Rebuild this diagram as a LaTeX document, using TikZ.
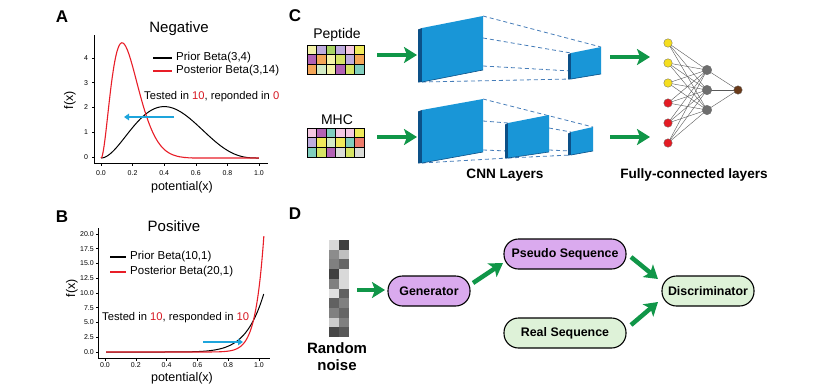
\documentclass[tikz,border=0pt]{standalone}
\usepackage{fontspec}
\setmainfont{Liberation Sans}
\usetikzlibrary{arrows.meta}
\definecolor{garrow}{RGB}{16,150,72}
\definecolor{cyarr}{RGB}{30,165,220}
\definecolor{redc}{RGB}{232,30,40}
\definecolor{redt}{RGB}{215,25,35}
\definecolor{slabf}{RGB}{25,150,215}
\definecolor{slabs}{RGB}{12,80,135}
\definecolor{dashc}{RGB}{70,125,185}
\definecolor{purp}{RGB}{218,170,238}
\definecolor{lgreen}{RGB}{222,242,216}
\definecolor{nyel}{RGB}{245,222,30}
\definecolor{nred}{RGB}{228,28,36}
\definecolor{ngray}{RGB}{110,110,110}
\definecolor{nbrown}{RGB}{105,58,25}
% grid colours
\definecolor{py}{RGB}{244,242,168}
\definecolor{lv}{RGB}{190,172,222}
\definecolor{lg}{RGB}{168,212,100}
\definecolor{pk}{RGB}{244,200,226}
\definecolor{yw}{RGB}{240,234,90}
\definecolor{pu}{RGB}{178,98,180}
\definecolor{or}{RGB}{244,166,88}
\definecolor{yg}{RGB}{214,228,100}
\definecolor{pg}{RGB}{210,234,196}
\definecolor{tl}{RGB}{128,206,190}
\definecolor{sa}{RGB}{238,124,108}
\definecolor{gr}{RGB}{218,220,216}
\tikzset{
  panel/.style={font=\fontsize{17}{19}\selectfont\bfseries},
  ttl/.style={font=\fontsize{15}{17}\selectfont},
  lgd/.style={font=\fontsize{11.5}{13}\selectfont, anchor=west, inner sep=0pt},
  note/.style={font=\fontsize{11.2}{13}\selectfont, anchor=west, inner sep=0pt},
  tickl/.style={font=\fontsize{7}{8}\selectfont, inner sep=0pt},
  axl/.style={font=\fontsize{12.5}{14}\selectfont, inner sep=0pt},
  lbl/.style={font=\fontsize{14}{16}\selectfont, inner sep=0pt},
  blbl/.style={font=\fontsize{13.6}{15}\selectfont\bfseries, inner sep=0pt},
  axisline/.style={draw=black, line width=0.9pt},
  garr/.style={draw=garrow, line width=4.5pt, -{Stealth[length=13pt,width=16pt,inset=3pt]}},
  carr/.style={draw=cyarr, line width=1.8pt, -{Triangle[length=5pt,width=6.5pt]}},
  dsh/.style={draw=dashc, line width=0.8pt, dash pattern=on 4pt off 3pt},
  nnode/.style={circle, minimum size=8.5pt, inner sep=0pt, draw=black!60, line width=0.3pt},
  nedge/.style={draw=black!65, line width=0.4pt},
  box/.style={draw=black, line width=1.1pt, rounded corners=14.5pt, minimum height=30pt, inner sep=0pt, font=\fontsize{12.4}{14}\selectfont\bfseries},
  cellb/.style={draw=black, line width=0.7pt}
}
\newcommand{\slabdraw}[7]{%
  % #1 xl, #2 xr, #3 ytl, #4 ytr, #5 ybl, #6 ybr, #7 depth
  \fill[slabs] ({#1-#7},{#3+1.5}) -- (#1,#3) -- (#1,#5) -- ({#1-#7},{#5+0.5}) -- cycle;
  \fill[slabf] (#1,#3) -- (#2,#4) -- (#2,#6) -- (#1,#5) -- cycle;
  \draw[slabs, line width=0.6pt] (#1,#5) -- (#2,#6);
}
\begin{document}
\begin{tikzpicture}[x=1pt,y=-1pt]
\useasboundingbox (0,0) rectangle (827,389);
\fill[white] (0,0) rectangle (827,389);

% ================= Panel A =================
\node[panel] (labA) at (62,17) {A};
\node[ttl] (titA) at (179,29) {Negative};
\draw[axisline] (94,35) -- (94,163) -- (268,163);
\foreach \t/\l in {0/0.0,0.2/0.2,0.4/0.4,0.6/0.6,0.8/0.8,1/1.0}{
  \draw[line width=0.6pt] ({101+158*\t},163) -- ({101+158*\t},165.5);
  \node[tickl] at ({101+158*\t},173) {\l};
}
\foreach \v in {0,1,2,3,4}{
  \draw[line width=0.6pt] (94,{157-24.8*\v}) -- (91.5,{157-24.8*\v});
  \node[tickl] at (86,{157-24.8*\v}) {\v};
}
\node[axl, rotate=90] (fxA) at (70,100) {f(x)};
\node[axl] (pxA) at (182,187) {potential(x)};
\draw[black, line width=1pt] plot[domain=0:1, samples=120, smooth] ({101+158*\x},{158-(60*\x^2*(1-\x)^3)*24.8});
\draw[redc, line width=1.1pt] plot[domain=0:1, samples=160, smooth] ({101+158*\x},{158-(1680*\x^2*(1-\x)^13)*24.8});
\draw[black, line width=1.2pt] (153,58) -- (172,58);
\node[lgd] (lgA1) at (176,58) {Prior Beta(3,4)};
\draw[redc, line width=1.2pt] (153,71) -- (172,71);
\node[lgd] (lgA2) at (176,71) {Posterior Beta(3,14)};
\node[note] (noteA) at (144,97) {Tested in \textcolor{redt}{10}, reponded in \textcolor{redt}{0}};
\coordinate (aS) at (174,117);
\coordinate (aE) at (124,117);
\draw[carr] (aS) -- (aE);

% ================= Panel B =================
\node[panel] (labB) at (62,217) {B};
\node[ttl] (titB) at (174,226) {Positive};
\draw[axisline] (98,228) -- (98,358) -- (270,358);
\foreach \t/\l in {0/0.0,0.2/0.2,0.4/0.4,0.6/0.6,0.8/0.8,1/1.0}{
  \draw[line width=0.6pt] ({105+154*\t},358) -- ({105+154*\t},360.5);
  \node[tickl] at ({105+154*\t},365) {\l};
}
\foreach \v/\l in {0/0.0,2.5/2.5,5/5.0,7.5/7.5,10/10.0,12.5/12.5,15/15.0,17.5/17.5,20/20.0}{
  \draw[line width=0.6pt] (98,{352-5.9*\v}) -- (95.5,{352-5.9*\v});
  \node[tickl, anchor=east] at (94,{352-5.9*\v}) {\l};
}
\node[axl, rotate=90] (fxB) at (72,288) {f(x)};
\node[axl] (pxB) at (182,378) {potential(x)};
\draw[black, line width=1pt] plot[domain=0:1, samples=150, smooth] ({106+158*\x},{352-(10*\x^9)*5.9});
\draw[redc, line width=1.1pt] plot[domain=0:1, samples=200, smooth] ({106+158*\x},{352-(20*\x^19)*5.9});
\draw[black, line width=1.2pt] (110,257) -- (126,257);
\node[lgd] (lgB1) at (130,257) {Prior Beta(10,1)};
\draw[redc, line width=1.2pt] (110,272) -- (126,272);
\node[lgd] (lgB2) at (130,272) {Posterior Beta(20,1)};
\node[note] (noteB) at (102,318) {Tested in \textcolor{redt}{10}, responded in \textcolor{redt}{10}};
\coordinate (bS) at (203,342);
\coordinate (bE) at (243,342);
\draw[carr] (bS) -- (bE);

% ================= Panel C =================
\node[panel] (labC) at (295,16) {C};
\node[lbl] (pep) at (337,35) {Peptide};
\node[lbl] (mhc) at (337,120) {MHC};
% peptide grid
\foreach \r/\cl in {0/{py,lv,lg,lv,pk,yw},1/{pu,or,py,yg,lv,or},2/{or,pg,py,pu,yg,tl}}{
  \foreach \c [count=\j from 0] in \cl {
    \filldraw[fill=\c, cellb] ({307+9.5*\j},{45+9.67*\r}) rectangle ++(9.5,9.67);
  }
}
% MHC grid
\foreach \r/\cl in {0/{pk,pu,tl,pk,pk,yw},1/{lv,yw,pg,yw,tl,sa},2/{tl,yg,pu,gr,yg,gr}}{
  \foreach \c [count=\j from 0] in \cl {
    \filldraw[fill=\c, cellb] ({307+9.5*\j},{128+9.67*\r}) rectangle ++(9.5,9.67);
  }
}
\coordinate (c1s) at (377,55);
\coordinate (c1e) at (417,55);
\coordinate (c2s) at (377,137);
\coordinate (c2e) at (417,137);
\draw[garr] (c1s) -- (c1e);
\draw[garr] (c2s) -- (c2e);
% top row slabs and dashed lines
\draw[dsh] (483,16) -- (601,47);
\draw[dsh] (483,38) -- (571,53);
\draw[dsh] (483,66) -- (571,71);
\draw[dsh] (422,82) -- (571,79);
\slabdraw{422}{483}{28}{16}{82}{70}{4}
\slabdraw{571}{601}{53}{47}{79}{74}{3}
% bottom row slabs and dashed lines
\draw[dsh] (483,99) -- (593,127);
\draw[dsh] (483,121) -- (508,123);
\draw[dsh] (483,150) -- (508,151);
\draw[dsh] (422,163) -- (508,158);
\draw[dsh] (549,128) -- (571,132);
\draw[dsh] (549,150) -- (571,151);
\draw[dsh] (508,158) -- (571,155);
\slabdraw{422}{483}{110}{99}{163}{152}{4}
\slabdraw{508}{549}{123}{115}{158}{152}{3}
\slabdraw{571}{593}{132}{127}{155}{151}{3}
\node[blbl] (cnn) at (505,175) {CNN Layers};
\coordinate (c3s) at (610,57);
\coordinate (c3e) at (650,57);
\coordinate (c4s) at (610,137);
\coordinate (c4e) at (650,137);
\draw[garr] (c3s) -- (c3e);
\draw[garr] (c4s) -- (c4e);
% fully connected net
\foreach \i in {1,...,6}{
  \coordinate (in\i) at (668,{23+20*\i});
}
\foreach \k in {1,2,3}{
  \coordinate (hd\k) at (707,{50+20*\k});
}
\coordinate (ou) at (738,90);
\foreach \i in {1,...,6}{
  \foreach \k in {1,2,3}{
    \draw[nedge] (in\i) -- (hd\k);
  }
}
\foreach \k in {1,2,3}{ \draw[nedge] (hd\k) -- (ou); }
\foreach \i in {1,2,3}{ \node[nnode, fill=nyel] (nin\i) at (in\i) {}; }
\foreach \i in {4,5,6}{ \node[nnode, fill=nred] (nin\i) at (in\i) {}; }
\foreach \k in {1,2,3}{ \node[nnode, fill=ngray, minimum width=9.5pt] (nhd\k) at (hd\k) {}; }
\node[nnode, fill=nbrown] (nou) at (ou) {};
\node[blbl] (fcl) at (694,175) {Fully-connected layers};

% ================= Panel D =================
\node[panel] (labD) at (295,214) {D};
\foreach \v [count=\r from 0] in {15,45,50,75,50,12,62,50,20,72}{
  \fill[black!\v] (329,{240+9.7*\r}) rectangle ++(10,9.7);
}
\foreach \v [count=\r from 0] in {75,25,60,15,15,62,50,60,50,65}{
  \fill[black!\v] (339,{240+9.7*\r}) rectangle ++(10,9.7);
}
\node[font=\fontsize{15}{17}\selectfont\bfseries, align=center, inner sep=0pt] (noise) at (337,357) {Random\\noise};
\node[box, fill=purp, minimum width=82pt] (gen) at (429,291) {Generator};
\node[box, fill=purp, minimum width=122pt] (pseudo) at (565,254) {Pseudo Sequence};
\node[box, fill=lgreen, minimum width=122pt] (real) at (565,333) {Real Sequence};
\node[box, fill=lgreen, minimum width=92pt] (disc) at (708,291) {Discriminator};
\coordinate (d1s) at (357,290);
\coordinate (d1e) at (385,290);
\draw[garr] (d1s) -- (d1e);
\coordinate (d2s) at (473,283);
\coordinate (d2e) at (503,263);
\draw[garr] (d2s) -- (d2e);
\coordinate (d3s) at (631,257);
\coordinate (d3e) at (658,279);
\draw[garr] (d3s) -- (d3e);
\coordinate (d4s) at (631,325);
\coordinate (d4e) at (658,302);
\draw[garr] (d4s) -- (d4e);
\end{tikzpicture}
\end{document}
